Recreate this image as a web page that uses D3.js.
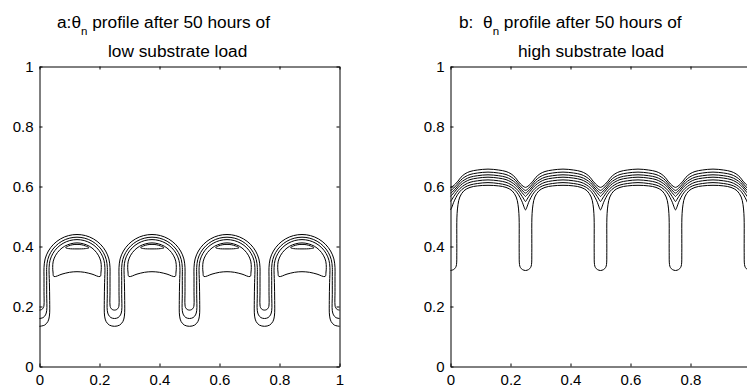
<!DOCTYPE html>
<html>
<head>
<meta charset="utf-8">
<script src="https://cdn.jsdelivr.net/npm/d3@7"></script>
<style>
  html, body { margin: 0; padding: 0; background: #fff; }
  svg { display: block; font-family: "Liberation Sans", Arial, Helvetica, sans-serif; }
  .axis text { font-size: 15px; fill: #000; }
  .axis path, .axis line { stroke: #000; stroke-width: 1; }
  .contour { fill: none; stroke: #000; stroke-width: 1; }
  .title { font-size: 17.3px; fill: #000; white-space: pre; }
  .title tspan { fill: #000; }
</style>
</head>
<body>
<div id="chart"></div>
<script>
// Tick values shared by both panels
const xTicks = [0, 0.2, 0.4, 0.6, 0.8, 1];
const yTicks = [0, 0.2, 0.4, 0.6, 0.8, 1];

// The pattern repeats every 0.25 along x: fingers at the period starts, domes in between
const period = 0.25;
const fingerCenters = [0, 0.25, 0.5, 0.75];
const domeCenters = [0.125, 0.375, 0.625, 0.875];

// Panel a (low load): half profiles, [dx from finger centre, y], finger bottom -> dome top
const lowLineA = [[0, 0.188], [0.0075, 0.190], [0.013, 0.196], [0.015, 0.205], [0.015, 0.25], [0.015, 0.30],
  [0.015, 0.33], [0.0187, 0.3585], [0.0297, 0.385], [0.0472, 0.4078], [0.07, 0.4253], [0.0965, 0.4363], [0.125, 0.44]];
const lowLineB = [[0, 0.160], [0.012, 0.163], [0.020, 0.172], [0.024, 0.186], [0.024, 0.24], [0.024, 0.30],
  [0.024, 0.33], [0.0274, 0.3562], [0.0375, 0.3805], [0.0536, 0.4014], [0.0745, 0.4175], [0.0989, 0.4276], [0.125, 0.431]];
const lowLineC = [[0, 0.134], [0.017, 0.138], [0.028, 0.150], [0.033, 0.168], [0.034, 0.22], [0.033, 0.28],
  [0.032, 0.33], [0.0352, 0.3541], [0.0445, 0.3765], [0.0592, 0.3958], [0.0785, 0.4105], [0.1009, 0.4198], [0.125, 0.423]];

// Panel a closed contours, [dx from dome centre, y]
const lowCap = [[-0.077, 0.300], [-0.080, 0.315], [-0.081, 0.33], [-0.0792, 0.3512], [-0.071, 0.371], [-0.058, 0.388],
  [-0.041, 0.401], [-0.021, 0.409], [0, 0.412], [0.021, 0.409], [0.041, 0.401], [0.058, 0.388], [0.071, 0.371],
  [0.0792, 0.3512], [0.081, 0.33], [0.080, 0.315], [0.077, 0.300], [0.05, 0.308], [0.025, 0.314], [0, 0.316],
  [-0.025, 0.314], [-0.05, 0.308]];
const lowLens = [[-0.038, 0.396], [-0.028, 0.402], [-0.014, 0.406], [0, 0.407], [0.014, 0.406], [0.028, 0.402],
  [0.040, 0.396], [0.028, 0.393], [0, 0.392], [-0.028, 0.393]];

// Panel b (high load): half profiles, dip centre -> dome top
const highLine1 = [[0, 0.597], [0.008, 0.601], [0.016, 0.608], [0.025, 0.618], [0.035, 0.631], [0.048, 0.642], [0.065, 0.650], [0.09, 0.655], [0.125, 0.658]];
const highLine2 = [[0, 0.587], [0.007, 0.591], [0.014, 0.598], [0.023, 0.608], [0.034, 0.621], [0.048, 0.632], [0.065, 0.640], [0.09, 0.645], [0.125, 0.648]];
const highLine3 = [[0, 0.578], [0.006, 0.582], [0.013, 0.589], [0.022, 0.599], [0.033, 0.612], [0.048, 0.623], [0.065, 0.631], [0.09, 0.636], [0.125, 0.639]];
const highLine4 = [[0, 0.567], [0.005, 0.572], [0.012, 0.580], [0.021, 0.591], [0.033, 0.604], [0.048, 0.615], [0.065, 0.623], [0.09, 0.628], [0.125, 0.631]];
const highLine5 = [[0, 0.550], [0.005, 0.557], [0.011, 0.567], [0.020, 0.580], [0.032, 0.594], [0.048, 0.606], [0.065, 0.614], [0.09, 0.619], [0.125, 0.622]];
const highLine6 = [[0, 0.522], [0.005, 0.532], [0.010, 0.546], [0.018, 0.563], [0.030, 0.582], [0.047, 0.597], [0.065, 0.605], [0.09, 0.610], [0.125, 0.613]];
const highLine7 = [[0, 0.320], [0.010, 0.323], [0.017, 0.330], [0.020, 0.340], [0.021, 0.38], [0.021, 0.44], [0.021, 0.48],
  [0.022, 0.51], [0.025, 0.54], [0.031, 0.565], [0.045, 0.586], [0.065, 0.597], [0.09, 0.602], [0.125, 0.604]];

const width = 747, height = 391;

const svg = d3.select('#chart')
    .append('svg')
    .attr('width', width)
    .attr('height', height);

// repeat a half profile (mirrored) over every period to get one continuous line
function tileProfile(half) {
    const pts = [];
    fingerCenters.forEach((x0, k) => {
        const up = half.map(([dx, y]) => [x0 + dx, y]);
        const down = half.slice(0, -1).reverse().map(([dx, y]) => [x0 + period - dx, y]);
        if (k > 0) up.shift();
        pts.push(...up, ...down);
    });
    return pts;
}

function drawPanel(left, openLines, closedShapes, titleParts) {
    const x = d3.scaleLinear().domain([0, 1]).range([left, left + 300]);
    const y = d3.scaleLinear().domain([0, 1]).range([366.5, 66.5]);
    const g = svg.append('g');

    const line = d3.line()
        .x(d => x(d[0]))
        .y(d => y(d[1]))
        .curve(d3.curveCatmullRom.alpha(0.5));
    const closed = d3.line()
        .x(d => x(d[0]))
        .y(d => y(d[1]))
        .curve(d3.curveCatmullRomClosed.alpha(0.5));

    g.selectAll('.open')
        .data(openLines.map(tileProfile))
        .enter().append('path')
        .attr('class', 'contour')
        .attr('d', line);

    closedShapes.forEach(shape => {
        g.selectAll(null)
            .data(domeCenters)
            .enter().append('path')
            .attr('class', 'contour')
            .attr('d', c => closed(shape.map(([dx, v]) => [c + dx, v])));
    });

    // box with inward ticks; the last x label is only shown when it fits in the window
    const fmt = d => (x(d) + 6 > width ? '' : String(d));
    g.append('g').attr('class', 'axis')
        .attr('transform', 'translate(0,366.5)')
        .call(d3.axisBottom(x).tickValues(xTicks).tickFormat(fmt).tickSizeInner(-3).tickSizeOuter(0).tickPadding(8));
    g.append('g').attr('class', 'axis')
        .attr('transform', 'translate(0,66.5)')
        .call(d3.axisTop(x).tickValues(xTicks).tickFormat('').tickSizeInner(-3).tickSizeOuter(0));
    g.append('g').attr('class', 'axis')
        .attr('transform', `translate(${left},0)`)
        .call(d3.axisLeft(y).tickValues(yTicks).tickFormat(d3.format('')).tickSizeInner(-3).tickSizeOuter(0).tickPadding(6));
    g.append('g').attr('class', 'axis')
        .attr('transform', `translate(${left + 300},0)`)
        .call(d3.axisRight(y).tickValues(yTicks).tickFormat('').tickSizeInner(-3).tickSizeOuter(0));
    g.selectAll('.axis').attr('font-family', null).attr('font-size', null);

    // two-line title, theta with subscript n
    const t1 = g.append('text').attr('class', 'title')
        .attr('x', titleParts.x1).attr('y', 27.5);
    t1.append('tspan').text(titleParts.head);
    t1.append('tspan').attr('dy', 7.5).style('font-size', '11.5px').text('n');
    t1.append('tspan').attr('dy', -7.5).text(' profile after 50 hours of');
    g.append('text').attr('class', 'title')
        .attr('x', titleParts.x2).attr('y', 56.5)
        .text(titleParts.line2);
}

drawPanel(39.5, [lowLineA, lowLineB, lowLineC], [lowCap, lowLens],
    { head: 'a:θ', x1: 57, line2: 'low substrate load', x2: 108 });
drawPanel(450.5, [highLine1, highLine2, highLine3, highLine4, highLine5, highLine6, highLine7], [],
    { head: 'b:  θ', x1: 459, line2: 'high substrate load', x2: 518 });
</script>
</body>
</html>
